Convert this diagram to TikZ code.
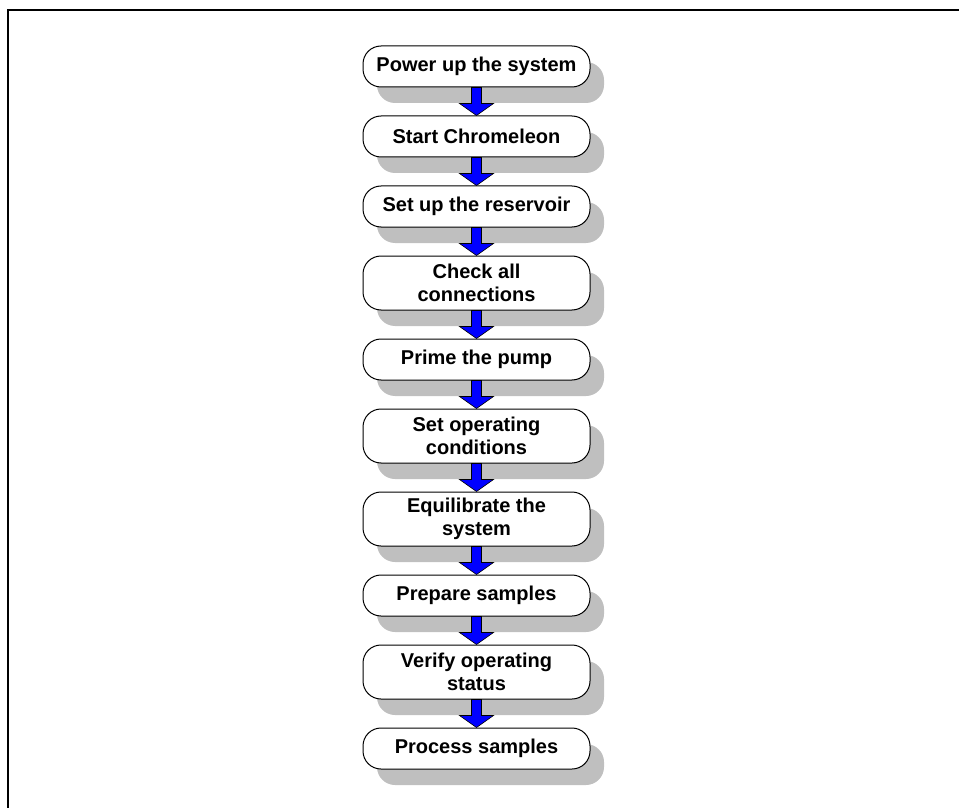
\documentclass[tikz,border=0pt]{standalone}
\usepackage{fontspec}
\setmainfont{Liberation Sans}
\usepackage{tikz}
\usetikzlibrary{positioning,shadows,calc}
\definecolor{sh}{rgb}{0.75,0.75,0.75}
\definecolor{ar}{rgb}{0.0,0.0,1.0}

\begin{document}
\begin{tikzpicture}[
  x=0.5pt, y=-0.5pt,
  node distance    = 14pt,
  every node/.style = {font=\fontsize{10}{11.5}\selectfont\bfseries},
  %% box styles
  stepbox/.style = {rectangle, rounded corners=9pt, draw=black,
                    line width=0.5pt, fill=white, align=center,
                    minimum width=113.5pt, minimum height=20.5pt,
                    inner sep=1pt,
                    general shadow={fill=sh, shadow xshift=7pt,
                                    shadow yshift=-8pt}},
  twobox/.style  = {stepbox, minimum height=27pt},
  %% arrow
  arr/.style = {fill=ar, draw=black, line width=0.3pt,
    to path={($(\tikztostart.south)+(-2.5pt,0pt)$)
      -- ($(\tikztotarget.north)+(-2.5pt,6pt)$)
      -- ($(\tikztotarget.north)+(-8.5pt,6pt)$)
      -- (\tikztotarget.north)
      -- ($(\tikztotarget.north)+(8.5pt,6pt)$)
      -- ($(\tikztotarget.north)+(2.5pt,6pt)$)
      -- ($(\tikztostart.south)+(2.5pt,0pt)$) -- cycle}}
]
\useasboundingbox (0,0) rectangle (959,808);

%% ---- Frame ----
\draw[line width=1pt] (962,10.5) -- (7.8,10.5) -- (7.8,812);

%% ---- Nodes (top to bottom) ----
\node[stepbox] (PWR) at (476.5,66.5) {Power up the system};
\node[stepbox, below=of PWR] (CHR) {Start Chromeleon};
\node[stepbox, below=of CHR] (RES) {Set up the reservoir};
\node[twobox,  below=of RES] (CON) {Check all\\connections};
\node[stepbox, below=of CON] (PRM) {Prime the pump};
\node[twobox,  below=of PRM] (OPC) {Set operating\\conditions};
\node[twobox,  below=of OPC] (EQU) {Equilibrate the\\system};
\node[stepbox, below=of EQU] (SMP) {Prepare samples};
\node[twobox,  below=of SMP] (VER) {Verify operating\\status};
\node[stepbox, below=of VER] (PRC) {Process samples};

%% ---- Arrows ----
\draw[arr] (PWR) to (CHR);
\draw[arr] (CHR) to (RES);
\draw[arr] (RES) to (CON);
\draw[arr] (CON) to (PRM);
\draw[arr] (PRM) to (OPC);
\draw[arr] (OPC) to (EQU);
\draw[arr] (EQU) to (SMP);
\draw[arr] (SMP) to (VER);
\draw[arr] (VER) to (PRC);

\end{tikzpicture}
\end{document}
